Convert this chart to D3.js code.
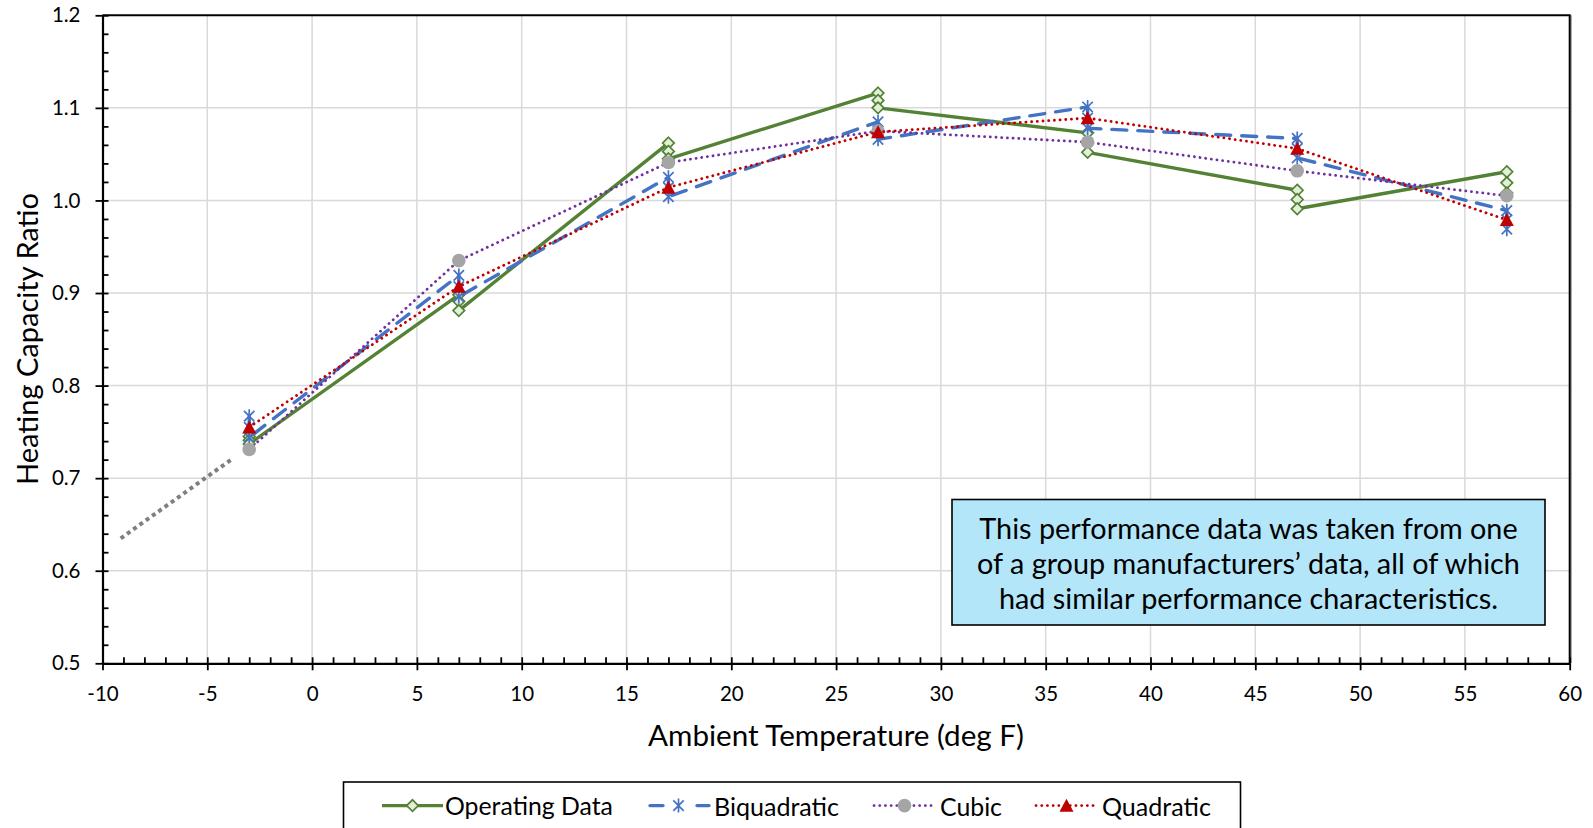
<!DOCTYPE html>
<html><head><meta charset="utf-8">
<script src="https://cdn.jsdelivr.net/npm/d3@7"></script>
<style>
body{margin:0;background:#fff;}
svg{display:block;}
text{font-family:Lato,"Open Sans",sans-serif;fill:#000;}
</style>
</head><body>
<svg id="chart" width="1593" height="828"></svg>
<script>
// ---------------- data ----------------
const temps = [-3, 7, 17, 27, 37, 47, 57];
const operatingData = [
  [0.745, 0.741, 0.737],
  [0.898, 0.891, 0.881],
  [1.062, 1.053, 1.045],
  [1.116, 1.108, 1.100],
  [1.073, 1.062, 1.052],
  [1.011, 1.001, 0.991],
  [1.031, 1.019, 1.008]
];
const biquadratic = [
  [0.767, 0.755, 0.744],
  [0.919, 0.907, 0.896],
  [1.025, 1.014, 1.004],
  [1.085, 1.075, 1.066],
  [1.101, 1.089, 1.078],
  [1.067, 1.056, 1.046],
  [0.989, 0.979, 0.969]
];
const cubic = [0.731, 0.935, 1.041, 1.075, 1.063, 1.032, 1.005];
const quadratic = [0.755, 0.907, 1.014, 1.074, 1.089, 1.056, 0.979];
const extrapTemps = [-9.13, -3.8];
const extrapValues = [0.635, 0.721];
const xTickValues = d3.range(-10, 61, 5);
const xMinorValues = d3.range(-10, 61, 1);
const yTickValues = [0.5, 0.6, 0.7, 0.8, 0.9, 1.0, 1.1, 1.2];
const yMinorValues = d3.range(0, 36).map(i => +(0.5 + i * 0.02).toFixed(2));
const seriesNames = ["Operating Data", "Biquadratic", "Cubic", "Quadratic"];
const xTitle = "Ambient Temperature (deg F)";
const yTitle = "Heating Capacity Ratio";
const noteLines = [
  "This performance data was taken from one",
  "of a group manufacturers\u2019 data, all of which",
  "had similar performance characteristics."
];

// ---------------- styles ----------------
const C = {
  op: "#548235", opFill: "#E2F0D9",
  bq: "#4472C4",
  cu: "#7030A0", cuMarker: "#A5A5A5",
  qu: "#C00000",
  ex: "#7F7F7F",
  grid: "#D9D9D9"
};

const svg = d3.select("#chart");
const L = 102.5, R = 1569.7, T = 15.3, B = 663.3;
const x = d3.scaleLinear().domain([-10, 60]).range([L, R]);
const y = d3.scaleLinear().domain([0.5, 1.2]).range([B, T]);

function fitFont(sel, target, base) {
  base = base || 20;
  sel.style("font-size", base + "px");
  const w = sel.node().getComputedTextLength();
  sel.style("font-size", (base * target / w).toFixed(2) + "px");
}

// grid
const grid = svg.append("g");
grid.selectAll(".gx").data(xTickValues.filter(v => v > -10 && v < 60)).join("line")
  .attr("x1", d => x(d)).attr("x2", d => x(d)).attr("y1", T).attr("y2", B)
  .attr("stroke", C.grid).attr("stroke-width", 1.5);
grid.selectAll(".gy").data(yTickValues.filter(v => v > 0.5 && v < 1.2)).join("line")
  .attr("x1", L).attr("x2", R).attr("y1", d => y(d)).attr("y2", d => y(d))
  .attr("stroke", C.grid).attr("stroke-width", 1.5);

// plot border (top/right)
svg.append("line").attr("x1", L).attr("x2", R + 1).attr("y1", T).attr("y2", T).attr("stroke", "#000").attr("stroke-width", 2);
svg.append("line").attr("x1", R + 1.5).attr("x2", R + 1.5).attr("y1", T).attr("y2", B).attr("stroke", "#A6A6A6").attr("stroke-width", 1.5);
svg.append("line").attr("x1", R).attr("x2", R).attr("y1", T).attr("y2", B).attr("stroke", "#000").attr("stroke-width", 2);

// axes
function styleAxis(g) {
  g.select(".domain").attr("stroke", "#000").attr("stroke-width", 2.2);
  g.selectAll(".tick line").attr("stroke", "#000").attr("stroke-width", 1.8);
}
const fmtX = d => String(d);
const xAxis = svg.append("g").attr("transform", `translate(0,${B})`)
  .call(d3.axisBottom(x).tickValues(xTickValues).tickFormat(fmtX).tickSizeInner(7).tickSizeOuter(0).tickPadding(16));
styleAxis(xAxis);
xAxis.selectAll("text").style("font-size", "20.5px").style("font-family", "Lato");
svg.append("g").attr("transform", `translate(0,${B})`)
  .call(d3.axisTop(x).tickValues(xMinorValues).tickFormat("").tickSizeInner(6).tickSizeOuter(0))
  .call(styleAxis).call(g => g.select(".domain").remove());

const yAxis = svg.append("g").attr("transform", `translate(${L},0)`)
  .call(d3.axisLeft(y).tickValues(yTickValues).tickFormat(d => d.toFixed(1)).tickSizeInner(7).tickSizeOuter(0).tickPadding(15));
styleAxis(yAxis);
yAxis.selectAll("text").style("font-size", "20.5px").style("font-family", "Lato");
svg.append("g").attr("transform", `translate(${L},0)`)
  .call(d3.axisRight(y).tickValues(yMinorValues).tickFormat("").tickSizeInner(6).tickSizeOuter(0))
  .call(styleAxis).call(g => g.select(".domain").remove());

// titles
const yt = svg.append("text").text(yTitle).attr("text-anchor", "middle")
  .attr("dominant-baseline", "central").attr("transform", "translate(26,339) rotate(-90)");
fitFont(yt, 292);
const xt = svg.append("text").text(xTitle).attr("text-anchor", "middle")
  .attr("dominant-baseline", "central").attr("x", 836).attr("y", 734);
fitFont(xt, 376);

// ---------------- markers ----------------
const markerPaths = {
  diamond: "M0,-5.8L5.8,0L0,5.8L-5.8,0Z",
  star: "M-5.2,-5.2L5.2,5.2M-5.2,5.2L5.2,-5.2M0,-7L0,7",
  triangle: "M0,-6.8L7,6.2L-7,6.2Z"
};
function drawMarker(g, kind, cx, cy) {
  if (kind === "diamond") {
    g.append("path").attr("d", markerPaths.diamond).attr("transform", `translate(${cx},${cy})`)
      .attr("fill", C.opFill).attr("stroke", C.op).attr("stroke-width", 1.7);
  } else if (kind === "star") {
    g.append("path").attr("d", markerPaths.star).attr("transform", `translate(${cx},${cy})`)
      .attr("fill", "none").attr("stroke", C.bq).attr("stroke-width", 1.7);
  } else if (kind === "circle") {
    g.append("circle").attr("cx", cx).attr("cy", cy).attr("r", 6.8).attr("fill", C.cuMarker);
  } else if (kind === "triangle") {
    g.append("path").attr("d", markerPaths.triangle).attr("transform", `translate(${cx},${cy})`)
      .attr("fill", C.qu);
  }
}

const line = d3.line().x(d => x(d.t)).y(d => y(d.v));
const opPts = temps.flatMap((t, i) => operatingData[i].map(v => ({t, v})));
const bqPts = temps.flatMap((t, i) => biquadratic[i].map(v => ({t, v})));
const cuPts = temps.map((t, i) => ({t, v: cubic[i]}));
const quPts = temps.map((t, i) => ({t, v: quadratic[i]}));
const exPts = extrapTemps.map((t, i) => ({t, v: extrapValues[i]}));

const plot = svg.append("g");
// extrapolation
plot.append("path").attr("d", line(exPts)).attr("fill", "none").attr("stroke", C.ex)
  .attr("stroke-width", 4).attr("stroke-dasharray", "4,3.7");

const series = [
  {pts: opPts, color: C.op, width: 3.4, dash: null, cap: "butt", marker: "diamond"},
  {pts: bqPts, color: C.bq, width: 3.4, dash: "15,11", cap: "round", marker: "star"},
  {pts: cuPts, color: C.cu, width: 2.8, dash: "0.1,5.6", cap: "round", marker: "circle"},
  {pts: quPts, color: C.qu, width: 2.8, dash: "0.1,5.6", cap: "round", marker: "triangle"}
];
series.forEach(s => {
  const g = plot.append("g");
  g.append("path").attr("d", line(s.pts)).attr("fill", "none").attr("stroke", s.color)
    .attr("stroke-width", s.width).attr("stroke-linecap", s.cap).attr("stroke-linejoin", "round")
    .attr("stroke-dasharray", s.dash);
  s.pts.forEach(p => drawMarker(g, s.marker, x(p.t), y(p.v)));
});

// ---------------- annotation ----------------
const note = svg.append("g");
note.append("rect").attr("x", 952).attr("y", 499.5).attr("width", 593).attr("height", 125.5)
  .attr("fill", "#B4E6FA").attr("stroke", "#000").attr("stroke-width", 1.6);
const noteY = [527.5, 563, 598];
const nt = note.selectAll("text").data(noteLines).join("text")
  .attr("x", 1248.5).attr("y", (d, i) => noteY[i]).attr("text-anchor", "middle")
  .attr("dominant-baseline", "central").text(d => d);
fitFont(d3.select(nt.nodes()[1]), 543);
const nfs = d3.select(nt.nodes()[1]).style("font-size");
nt.style("font-size", nfs);

// ---------------- legend ----------------
const lg = svg.append("g");
lg.append("rect").attr("x", 343.5).attr("y", 782).attr("width", 897).attr("height", 60)
  .attr("fill", "#fff").attr("stroke", "#000").attr("stroke-width", 1.6);
const legY = 805.6;
const legItems = [
  {s: series[0], x0: 382, x1: 443, tx: 445},
  {s: series[1], x0: 648, x1: 709, tx: 714},
  {s: series[2], x0: 874, x1: 935, tx: 940},
  {s: series[3], x0: 1036, x1: 1097, tx: 1102}
];
const legWidths = [168, 125, 62, 109];
legItems.forEach((it, i) => {
  const g = lg.append("g");
  g.append("line").attr("x1", it.x0).attr("x2", it.x1).attr("y1", legY).attr("y2", legY)
    .attr("stroke", it.s.color).attr("stroke-width", it.s.width).attr("stroke-linecap", it.s.cap)
    .attr("stroke-dasharray", i === 1 ? "13,34" : it.s.dash)
    .attr("stroke-dashoffset", i === 1 ? -2 : 0);
  drawMarker(g, it.s.marker, (it.x0 + it.x1) / 2, legY);
  const t = g.append("text").attr("x", it.tx).attr("y", legY).attr("dominant-baseline", "central").text(seriesNames[i]);
  fitFont(t, legWidths[i]);
});
</script>
</body></html>
